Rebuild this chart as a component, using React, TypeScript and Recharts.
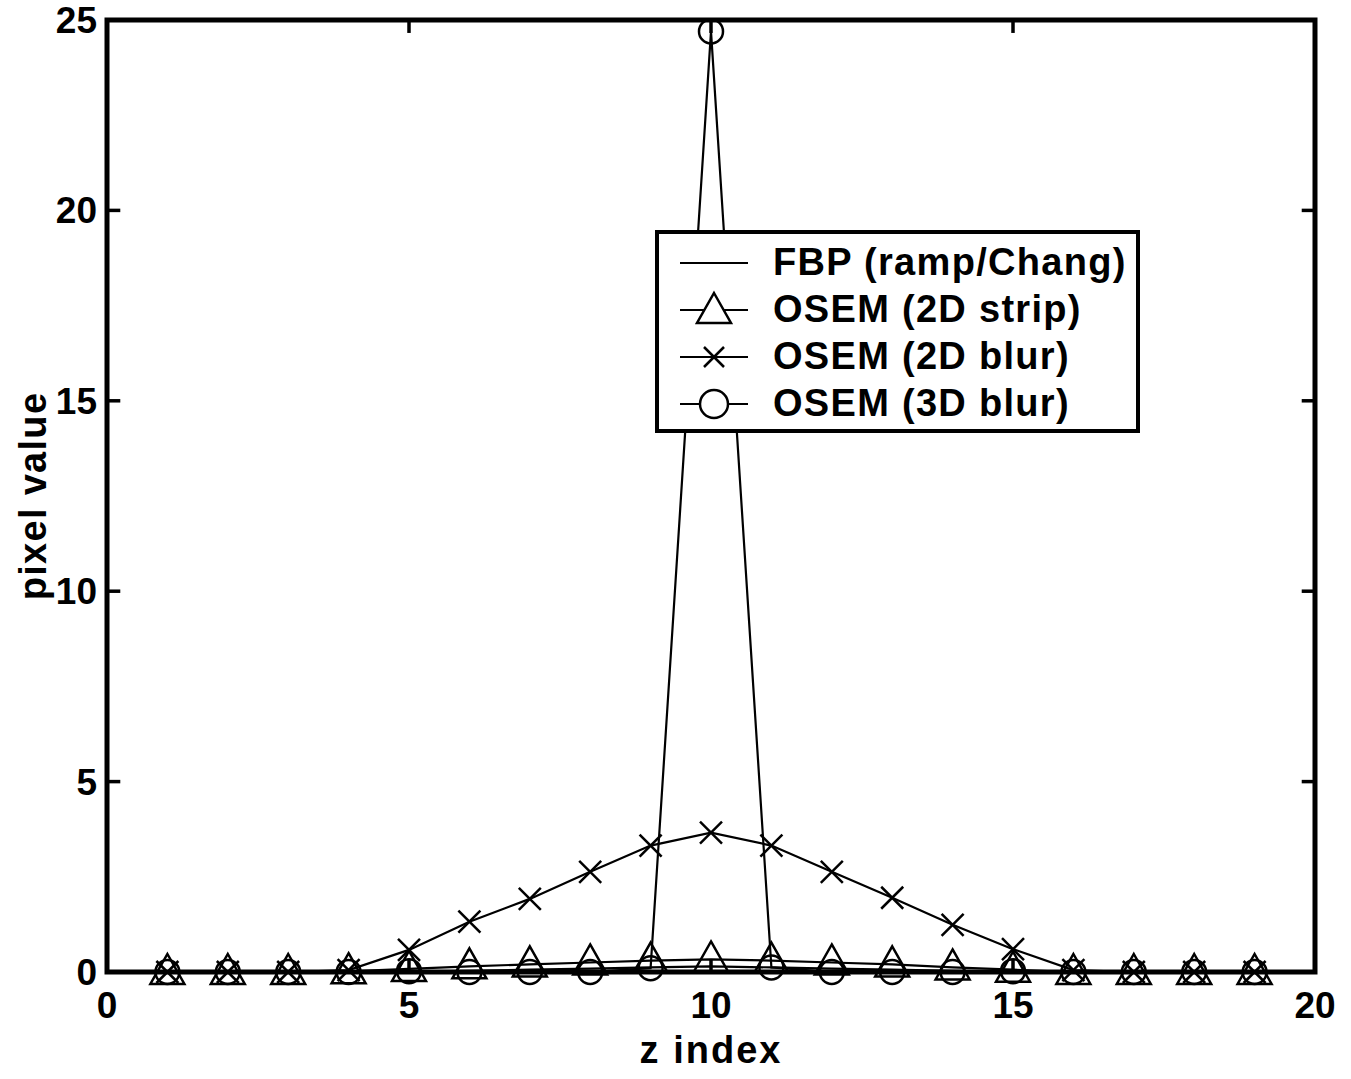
import React from 'react';
import { LineChart, Line, XAxis, YAxis, Legend, ReferenceArea, ReferenceLine } from 'recharts';

const zIndex = [1, 2, 3, 4, 5, 6, 7, 8, 9, 10, 11, 12, 13, 14, 15, 16, 17, 18, 19];
const fbp = [0, 0, 0, 0, 0.01, 0.03, 0.06, 0.09, 0.12, 0.15, 0.12, 0.09, 0.06, 0.03, 0.01, 0, 0, 0, 0];
const osem2DStrip = [0, 0, 0, 0.02, 0.08, 0.15, 0.2, 0.25, 0.3, 0.33, 0.3, 0.25, 0.2, 0.12, 0.06, 0, 0, 0, 0];
const osem2DBlur = [0, 0, 0, 0.05, 0.58, 1.32, 1.92, 2.63, 3.32, 3.66, 3.32, 2.63, 1.95, 1.24, 0.6, 0.05, 0, 0, 0];
const osem3DBlur = [0, 0, 0, 0, 0.02, 0, 0, 0, 0.1, 24.7, 0.12, 0, 0, 0, 0.02, 0, 0, 0, 0];

const xTicks = [0, 5, 10, 15, 20];
const yTicks = [0, 5, 10, 15, 20, 25];
const seriesNames = ['FBP (ramp/Chang)', 'OSEM (2D strip)', 'OSEM (2D blur)', 'OSEM (3D blur)'];
const xLabel = 'z index';
const yLabel = 'pixel value';

const X_MIN = 0;
const X_MAX = 20;
const Y_MIN = 0;
const Y_MAX = 25;

const data = zIndex.map((z, i) => ({
  z,
  fbp: fbp[i],
  strip: osem2DStrip[i],
  blur2: osem2DBlur[i],
  blur3: osem3DBlur[i],
}));

const FONT = '"Liberation Sans", Arial, Helvetica, sans-serif';
const TICK_W = 3.5;
// inward tick length expressed in axis units (about 13 px on this plot)
const X_TICK_LEN = 0.22;
const Y_TICK_LEN = 0.34;
const FS = 37;
const WFS = 38;
const LS = 1.3;

const BottomTick = (p: any) => (
  <text x={p.x} y={p.y + 46} textAnchor="middle" fontSize={FS} fontWeight="bold" fontFamily={FONT} fill="#000">
    {p.payload.value}
  </text>
);
const LeftTick = (p: any) => (
  <text x={p.x - 10} y={p.y + 13} textAnchor="end" fontSize={FS} fontWeight="bold" fontFamily={FONT} fill="#000">
    {p.payload.value}
  </text>
);

const triPath = (cx: number, cy: number) => `M${cx},${cy - 18} L${cx + 17},${cy + 12} L${cx - 17},${cy + 12} Z`;

const TriDot = (p: any) => {
  if (p.cx == null || p.cy == null) return <g key={`te${p.index}`} />;
  return <path key={`t${p.index}`} d={triPath(p.cx, p.cy)} fill="none" stroke="#000" strokeWidth={2.5} />;
};
const XDot = (p: any) => {
  if (p.cx == null || p.cy == null) return <g key={`xe${p.index}`} />;
  const s = 11;
  return (
    <g key={`x${p.index}`}>
      <line x1={p.cx - s} y1={p.cy - s} x2={p.cx + s} y2={p.cy + s} stroke="#000" strokeWidth={2.5} />
      <line x1={p.cx - s} y1={p.cy + s} x2={p.cx + s} y2={p.cy - s} stroke="#000" strokeWidth={2.5} />
    </g>
  );
};
const ODot = (p: any) => {
  if (p.cx == null || p.cy == null) return <g key={`oe${p.index}`} />;
  return <circle key={`o${p.index}`} cx={p.cx} cy={p.cy} r={12} fill="none" stroke="#000" strokeWidth={2.5} />;
};

const LegendBox = () => {
  const rows = [0, 1, 2, 3];
  const base = [45, 92, 139, 186];
  return (
    <svg width={485} height={204} style={{ display: 'block' }}>
      <rect x={2} y={2} width={481} height={199} fill="#fff" stroke="#000" strokeWidth={4} />
      {rows.map((i) => {
        const ly = base[i] - 12;
        return (
          <g key={i}>
            <line x1={25} x2={93} y1={ly} y2={ly} stroke="#000" strokeWidth={2.2} />
            {i === 1 && <path d={triPath(59, ly + 1)} fill="#fff" stroke="#000" strokeWidth={2.5} />}
            {i === 2 && (
              <g>
                <line x1={49} y1={ly - 10} x2={69} y2={ly + 10} stroke="#000" strokeWidth={2.5} />
                <line x1={49} y1={ly + 10} x2={69} y2={ly - 10} stroke="#000" strokeWidth={2.5} />
              </g>
            )}
            {i === 3 && <circle cx={59} cy={ly} r={14} fill="#fff" stroke="#000" strokeWidth={2.5} />}
            <text x={118} y={base[i]} fontSize={WFS} letterSpacing={LS} fontWeight="bold" fontFamily={FONT} fill="#000">
              {seriesNames[i]}
            </text>
          </g>
        );
      })}
    </svg>
  );
};

const XLabel = (props: any) => {
  const vb = props.viewBox || {};
  return (
    <text x={vb.x + vb.width / 2} y={vb.y + 91} textAnchor="middle" fontSize={WFS} letterSpacing={2} fontWeight="bold" fontFamily={FONT} fill="#000">
      {xLabel}
    </text>
  );
};
const YLabel = (props: any) => {
  const vb = props.viewBox || {};
  const cx = 46;
  const cy = vb.y + vb.height / 2;
  return (
    <text x={cx} y={cy} transform={`rotate(-90 ${cx} ${cy})`} textAnchor="middle" fontSize={WFS} letterSpacing={LS} fontWeight="bold" fontFamily={FONT} fill="#000">
      {yLabel}
    </text>
  );
};

export default function App() {
  const innerX = xTicks.filter((t) => t > X_MIN && t < X_MAX);
  const innerY = yTicks.filter((t) => t > Y_MIN && t < Y_MAX);
  return (
    <div style={{ position: 'absolute', left: 0, top: 0, background: '#fff' }}>
      <LineChart width={1351} height={1079} data={data} margin={{ top: 20, right: 36, bottom: 0, left: 0 }}>
        <XAxis
          dataKey="z"
          type="number"
          domain={[X_MIN, X_MAX]}
          ticks={xTicks}
          interval={0}
          height={107}
          axisLine={false}
          tickLine={false}
          tickSize={0}
          tickMargin={0}
          tick={BottomTick}
          label={XLabel}
        />
        <YAxis
          type="number"
          domain={[Y_MIN, Y_MAX]}
          ticks={yTicks}
          interval={0}
          width={107}
          axisLine={false}
          tickLine={false}
          tickSize={0}
          tickMargin={0}
          tick={LeftTick}
          label={YLabel}
        />
        <ReferenceArea x1={X_MIN} x2={X_MAX} y1={Y_MIN} y2={Y_MAX} fill="none" stroke="#000" strokeWidth={5} />
        {innerX.map((t) => (
          <ReferenceLine key={`xb${t}`} segment={[{ x: t, y: Y_MIN }, { x: t, y: Y_MIN + Y_TICK_LEN }]} stroke="#000" strokeWidth={TICK_W} />
        ))}
        {innerX.map((t) => (
          <ReferenceLine key={`xt${t}`} segment={[{ x: t, y: Y_MAX }, { x: t, y: Y_MAX - Y_TICK_LEN }]} stroke="#000" strokeWidth={TICK_W} />
        ))}
        {innerY.map((t) => (
          <ReferenceLine key={`yl${t}`} segment={[{ x: X_MIN, y: t }, { x: X_MIN + X_TICK_LEN, y: t }]} stroke="#000" strokeWidth={TICK_W} />
        ))}
        {innerY.map((t) => (
          <ReferenceLine key={`yr${t}`} segment={[{ x: X_MAX, y: t }, { x: X_MAX - X_TICK_LEN, y: t }]} stroke="#000" strokeWidth={TICK_W} />
        ))}
        <Line dataKey="fbp" name={seriesNames[0]} type="linear" stroke="#000" strokeWidth={2.2} dot={false} activeDot={false} isAnimationActive={false} />
        <Line dataKey="strip" name={seriesNames[1]} type="linear" stroke="#000" strokeWidth={2.2} dot={TriDot} activeDot={false} isAnimationActive={false} />
        <Line dataKey="blur2" name={seriesNames[2]} type="linear" stroke="#000" strokeWidth={2.2} dot={XDot} activeDot={false} isAnimationActive={false} />
        <Line dataKey="blur3" name={seriesNames[3]} type="linear" stroke="#000" strokeWidth={2.2} dot={ODot} activeDot={false} isAnimationActive={false} />
        <Legend
          layout="horizontal"
          verticalAlign="middle"
          align="center"
          wrapperStyle={{ position: 'absolute', left: 655, top: 230, width: 485, height: 204, margin: 0, padding: 0 }}
          content={() => <LegendBox />}
        />
      </LineChart>
    </div>
  );
}
